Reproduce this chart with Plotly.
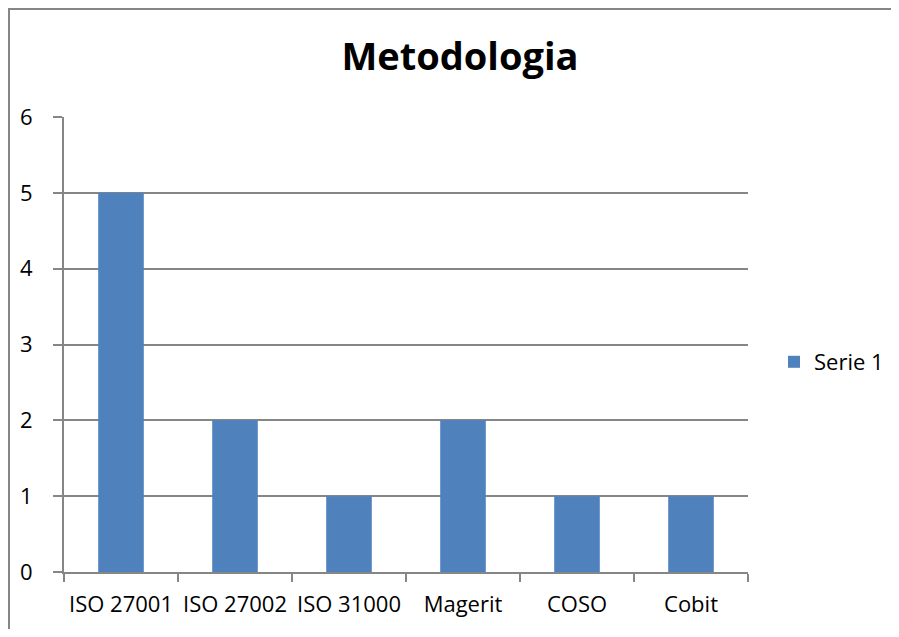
import plotly.graph_objects as go

categories = ["ISO 27001", "ISO 27002", "ISO 31000", "Magerit", "COSO", "Cobit"]
serie1 = [5, 2, 1, 2, 1, 1]
series_name = "Serie 1"
title_text = "Metodologia"
y_ticks = [0, 1, 2, 3, 4, 5, 6]

# page is offset by the 8px body margin of the html page
OFF = 8
W, H = 899 - 2 * OFF, 637 - 2 * OFF
# plot area in page pixels: x 64..748, y 117..572
L = 64 - OFF
T = 117 - OFF
R = W - (748 - OFF)
B = H - (572 - OFF)
pw, ph = W - L - R, H - T - B

def px_x(x):
    return (x - OFF - L) / pw

def px_y(y):
    return (H - B - (y - OFF)) / ph

fig = go.Figure()
fig.add_trace(go.Bar(
    x=categories, y=serie1, name=series_name,
    marker=dict(color="#4F81BD", line=dict(width=0)),
))

grid = "#868686"
fig.update_layout(
    width=W, height=H,
    margin=dict(l=L, r=R, t=T, b=B, pad=0, autoexpand=False),
    paper_bgcolor="white", plot_bgcolor="white",
    font=dict(family="Open Sans, Carlito, Calibri, sans-serif", size=22, color="black"),
    title=dict(text="<b>" + title_text + "</b>", x=(460 - OFF) / W, xanchor="center",
               y=1 - (57 - OFF) / H, yanchor="middle", font=dict(size=38)),
    bargap=0.6,
    showlegend=True,
    legend=dict(x=px_x(774), xanchor="left", y=px_y(362), yanchor="middle",
                font=dict(size=22), itemwidth=30, bgcolor="rgba(0,0,0,0)"),
    xaxis=dict(type="category", showgrid=False, showline=True, linecolor=grid, linewidth=2,
               ticks="outside", tickson="boundaries", ticklen=8, tickcolor=grid, tickwidth=2,
               tickangle=0, automargin=False, ticklabelstandoff=12,
               tickfont=dict(size=22), fixedrange=True),
    yaxis=dict(range=[0, 6], tickvals=y_ticks, showgrid=True, gridcolor=grid, gridwidth=1.5,
               showline=True, linecolor=grid, linewidth=2, zeroline=False, automargin=False,
               ticks="outside", ticklen=9, tickcolor=grid, tickwidth=1.5,
               ticklabelstandoff=16, tickfont=dict(size=22)),
    shapes=[dict(type="rect", xref="paper", yref="paper",
                 x0=px_x(9), x1=px_x(897.5), y0=px_y(700), y1=px_y(9),
                 line=dict(color="#868686", width=2), fillcolor="rgba(0,0,0,0)", layer="below")],
)

fig.write_html("out.html")
